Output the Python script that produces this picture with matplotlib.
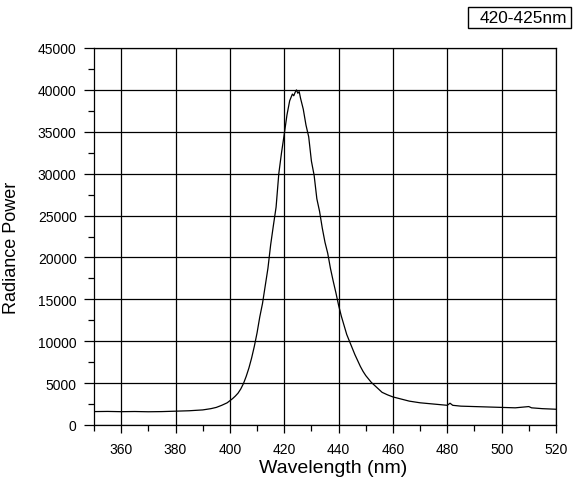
import matplotlib
matplotlib.use("Agg")
import matplotlib.pyplot as plt
from matplotlib.ticker import MultipleLocator
from matplotlib.patches import Rectangle

plt.rcParams['font.family'] = ['Liberation Sans', 'DejaVu Sans']

wavelength = [350, 355, 360, 365, 370, 375, 380, 385, 390, 393, 395, 397, 399,
              400, 401, 402, 403, 404, 405, 406, 407, 408, 409, 410, 411, 412,
              413, 414, 415, 416, 417, 418, 419, 420, 421, 422, 423, 423.5, 424,
              424.5, 425, 425.5, 426, 427, 428, 429, 430, 431, 432, 433,
              434, 435, 436, 437, 438, 439, 440, 441, 442, 443, 444, 445, 446,
              447, 448, 449, 450, 452, 454, 456, 458, 460, 463, 466, 470, 475,
              480, 481, 482, 485, 490, 495, 500, 505, 510, 511, 515, 520]
radiance = [1600, 1620, 1590, 1610, 1580, 1600, 1650, 1700, 1800, 1950, 2100,
            2350, 2650, 2900, 3150, 3450, 3800, 4300, 4950, 5800, 6800, 8000,
            9400, 11000, 12900, 14500, 16600, 18700, 21500, 23800, 26000, 30000,
            32500, 34700, 37000, 38700, 39500, 39300, 39700, 40000, 39600, 39800,
            39000, 37700, 35800, 34400, 31500, 29800, 27000, 25500, 23500,
            21800, 20500, 18700, 17200, 15800, 14300, 13000, 11900, 10800, 10000,
            9200, 8400, 7700, 7000, 6400, 5900, 5100, 4500, 3900, 3600, 3350,
            3100, 2850, 2650, 2500, 2350, 2600, 2350, 2250, 2200, 2150, 2100,
            2050, 2200, 2050, 1950, 1880]

x_ticks = [360, 380, 400, 420, 440, 460, 480, 500, 520]
y_ticks = [0, 5000, 10000, 15000, 20000, 25000, 30000, 35000, 40000, 45000]
legend_text = "420-425nm"

fig = plt.figure(figsize=(5.8, 4.85), dpi=100)
ax = fig.add_axes([94/580, 1-426/485, (556-94)/580, (426-49)/485])

ax.plot(wavelength, radiance, color='black', lw=0.9, zorder=3)

ax.set_xlim(350, 520)
ax.set_ylim(0, 45000)
ax.set_xticks(x_ticks)
ax.set_yticks(y_ticks)
ax.xaxis.set_minor_locator(MultipleLocator(10))
ax.yaxis.set_minor_locator(MultipleLocator(2500))
ax.grid(True, which='major', color='black', lw=0.9)
ax.set_axisbelow(True)

ax.tick_params(axis='both', which='major', direction='out', length=6, width=0.9,
               labelsize=10, colors='black')
ax.tick_params(axis='y', which='major', length=7.5, pad=5)
ax.tick_params(axis='x', which='major', pad=6)
ax.tick_params(axis='both', which='minor', direction='out', length=4, width=0.9)

for s in ax.spines.values():
    s.set_color('black')
    s.set_linewidth(0.9)

ax.set_xlabel("Wavelength (nm)", fontsize=14, va='center')
ax.set_ylabel("Radiance Power", fontsize=13, va='center')
ax.xaxis.set_label_coords((333-94)/(556-94), -(469-426)/(426-49))
ax.yaxis.set_label_coords(-(94-12)/(556-94), (426-248)/(426-49))

fig.add_artist(Rectangle((468/580, 1-29/485), (571-468)/580, 21/485,
                         transform=fig.transFigure, fc='white', ec='black', lw=1))
fig.text(523.5/580, 1-18.5/485, legend_text, fontsize=12.4, ha='center', va='center')

fig.savefig("out.png", dpi=100)
